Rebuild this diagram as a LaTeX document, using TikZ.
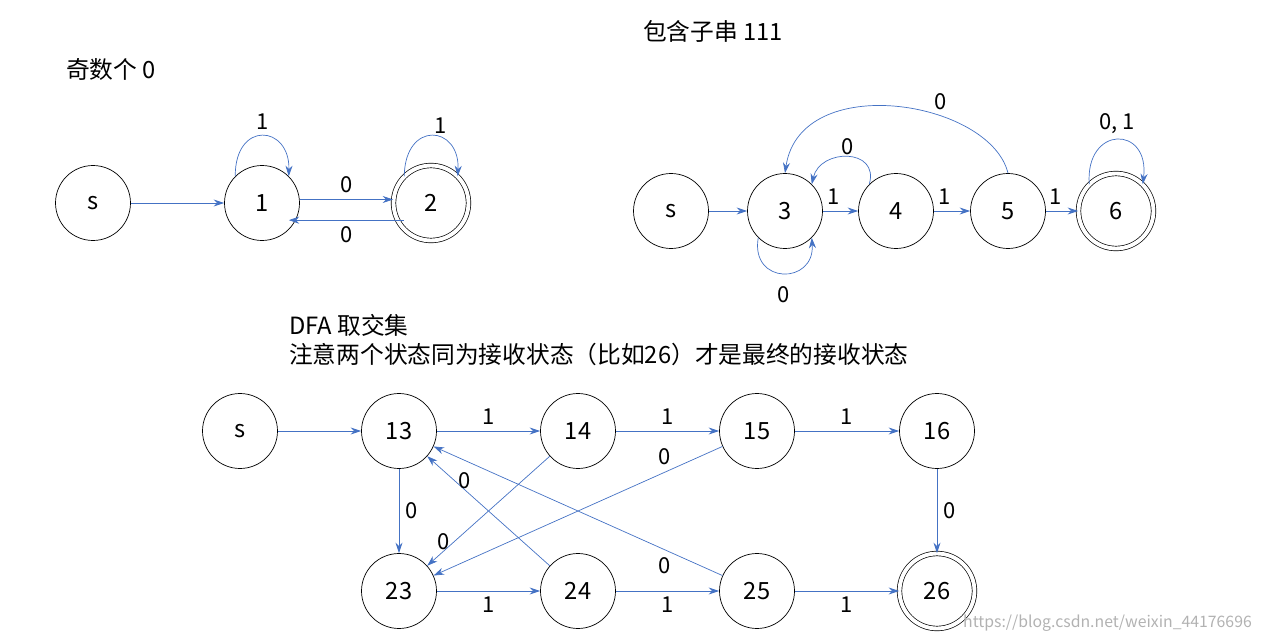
\documentclass[tikz,border=0pt]{standalone}
\usepackage{fontspec}
\setmainfont{Noto Sans CJK SC}
\usetikzlibrary{arrows.meta}
\definecolor{edgeblue}{RGB}{68,114,196}
\tikzset{
  state/.style={circle,draw,thin,minimum size=1.5cm,inner sep=0pt},
  accept/.style={state,double,double distance=2.2pt},
  trans/.style={draw=edgeblue,-{Stealth[length=6pt,width=4pt]}},
  lbl/.style={font=\fontsize{12.5}{15}\selectfont}
}
\begin{document}
\begin{tikzpicture}[x=0.02cm,y=-0.02cm,font=\fontsize{13.5}{16}\selectfont]
  \useasboundingbox (0,0) rectangle (1265,642);

  % odd number of 0
  \node[anchor=west] (t1) at (60,70) {奇数个 0};
  \node[state] (a0) at (93,203) {s};
  \node[state] (a1) at (262,203) {1};
  \node[accept] (a2) at (431,203) {2};
  \draw[trans] (a0) -- (a1);
  \draw[trans] ([yshift=2pt]a1.east) -- node[lbl,above] {0} ([yshift=2pt]a2.west);
  \draw[trans] ([yshift=-25pt]a2.north west) -- node[lbl,below] {0} ([yshift=-25pt]a1.north east);
  \draw[trans] (a1.north west) .. controls (235,120) and (290,125) .. node[lbl,above] {1} (a1.north east);
  \draw[trans] (a2.north west) .. controls (405,120) and (460,125) .. node[lbl,above right=-2pt] {1} (a2.north east);

  % contains 111
  \node (t2) at (713,31) {包含子串 111};
  \node[state] (b0) at (671,211) {s};
  \node[state] (b3) at (785,211) {3};
  \node[state] (b4) at (896,211) {4};
  \node[state] (b5) at (1008,211) {5};
  \node[accept] (b6) at (1116,211) {6};
  \draw[trans] (b0) -- (b3);
  \draw[trans] (b3) -- node[lbl,above,pos=0.3] {1} (b4);
  \draw[trans] (b4) -- node[lbl,above,pos=0.3] {1} (b5);
  \draw[trans] (b5) -- node[lbl,above,pos=0.3] {1} (b6);
  \draw[trans] (b4.north west) .. controls (880,148) and (820,148) .. node[lbl,above=-2pt] {0} (b3.north east);
  \draw[trans] (b5.north) .. controls (990,100) and (800,70) .. node[lbl,above,pos=0.35] {0} (b3.north);
  \draw[trans] (b3.south west) .. controls (750,285) and (815,285) .. node[lbl,below=4pt] {0} (b3.south east);
  \draw[trans] (b6.north west) .. controls (1085,125) and (1150,125) .. node[lbl,above] {0, 1} (b6.north east);

  % intersection
  \node[anchor=west] (t3) at (283,325) {DFA 取交集};
  \node[anchor=west] (t4) at (283,354) {注意两个状态同为接收状态（比如26）才是最终的接收状态};
  \node[state] (s) at (240,431) {s};
  \node[state] (c13) at (399,431) {13};
  \node[state] (c14) at (578,431) {14};
  \node[state] (c15) at (757,431) {15};
  \node[state] (c16) at (937,431) {16};
  \node[state] (c23) at (399,591) {23};
  \node[state] (c24) at (578,591) {24};
  \node[state] (c25) at (757,591) {25};
  \node[accept] (c26) at (937,591) {26};
  \draw[trans] (s) -- (c13);
  \draw[trans] (c13) -- node[lbl,above] {1} (c14);
  \draw[trans] (c14) -- node[lbl,above] {1} (c15);
  \draw[trans] (c15) -- node[lbl,above] {1} (c16);
  \draw[trans] (c16) -- node[lbl,right] {0} (c26);
  \draw[trans] (c13) -- node[lbl,right] {0} (c23);
  \draw[trans] (c23) -- node[lbl,below] {1} (c24);
  \draw[trans] (c24) -- node[lbl,below] {1} (c25);
  \draw[trans] (c25) -- node[lbl,below] {1} (c26);
  \draw[trans] (c14) -- node[lbl,pos=0.78,left=-1pt] {0} (c23);
  \draw[trans] (c15) -- node[lbl,pos=0.2,above=1pt] {0} (c23);
  \draw[trans] (c24) -- node[lbl,pos=0.78,right=-1pt] {0} (c13);
  \draw[trans] (c25) -- node[lbl,pos=0.2,below=1pt] {0} (c13);

  \node[anchor=east,text=black!30,font=\fontsize{9}{11}\selectfont] (wm) at (1258,623) {https://blog.csdn.net/weixin\_44176696};
\end{tikzpicture}
\end{document}
